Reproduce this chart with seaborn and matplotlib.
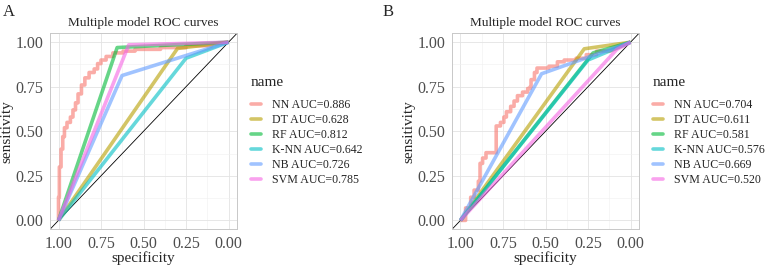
import matplotlib
matplotlib.use("Agg")
import matplotlib.pyplot as plt
from matplotlib.lines import Line2D
from matplotlib import ticker
import pandas as pd
import seaborn as sns

sns.set_style("white")
plt.rcParams['font.family'] = ['Liberation Serif', 'DejaVu Serif']
plt.rcParams['path.simplify'] = False

models = ["NN", "DT", "RF", "K-NN", "NB", "SVM"]
palette = ["#F8766D", "#B79F00", "#00BA38", "#00BFC4", "#619CFF", "#F564E3"]

# panel A (training set) - (specificity, sensitivity)
auc_a = ["0.886", "0.628", "0.812", "0.642", "0.726", "0.785"]
nn_a = [(1.0, 0.0), (1.0, 0.13), (0.995, 0.13), (0.995, 0.30), (0.985, 0.30),
        (0.985, 0.40), (0.975, 0.40), (0.975, 0.47), (0.965, 0.47), (0.965, 0.52),
        (0.95, 0.52), (0.95, 0.55), (0.93, 0.55), (0.93, 0.58), (0.915, 0.58),
        (0.915, 0.62), (0.9, 0.62), (0.9, 0.66), (0.885, 0.66), (0.885, 0.71),
        (0.865, 0.71), (0.865, 0.76), (0.845, 0.76), (0.845, 0.80), (0.82, 0.80),
        (0.82, 0.83), (0.79, 0.83), (0.79, 0.85), (0.77, 0.85), (0.77, 0.88),
        (0.75, 0.88), (0.75, 0.90), (0.72, 0.90), (0.72, 0.92), (0.68, 0.92),
        (0.68, 0.94), (0.62, 0.94), (0.62, 0.95), (0.55, 0.95), (0.55, 0.96),
        (0.40, 0.96), (0.40, 0.97), (0.25, 0.97), (0.25, 0.98), (0.10, 0.98),
        (0.10, 0.99), (0.0, 1.0)]
dt_a = [(1.0, 0.0), (0.30, 0.965), (0.0, 1.0)]
rf_a = [(1.0, 0.0), (0.655, 0.97), (0.0, 1.0)]
knn_a = [(1.0, 0.0), (0.25, 0.91), (0.0, 1.0)]
nb_a = [(1.0, 0.0), (0.626, 0.813), (0.0, 1.0)]
svm_a = [(1.0, 0.0), (0.587, 0.985), (0.0, 1.0)]

# panel B (test set)
auc_b = ["0.704", "0.611", "0.581", "0.576", "0.669", "0.520"]
nn_b = [(1.0, 0.0), (0.97, 0.0), (0.97, 0.07), (0.94, 0.07), (0.94, 0.13),
        (0.92, 0.13), (0.92, 0.17), (0.895, 0.17), (0.895, 0.22), (0.885, 0.22),
        (0.885, 0.32), (0.87, 0.32), (0.87, 0.35), (0.85, 0.35), (0.85, 0.38),
        (0.79, 0.38), (0.79, 0.53), (0.765, 0.53), (0.765, 0.55), (0.745, 0.55),
        (0.745, 0.58), (0.73, 0.58), (0.73, 0.61), (0.705, 0.61), (0.705, 0.64),
        (0.685, 0.64), (0.685, 0.67), (0.665, 0.67), (0.665, 0.70), (0.635, 0.70),
        (0.635, 0.72), (0.605, 0.72), (0.605, 0.74), (0.59, 0.74), (0.59, 0.75),
        (0.585, 0.75), (0.585, 0.79), (0.565, 0.79), (0.565, 0.83), (0.55, 0.83),
        (0.55, 0.855), (0.48, 0.855), (0.48, 0.865), (0.43, 0.865), (0.43, 0.89),
        (0.39, 0.89), (0.39, 0.90), (0.32, 0.90), (0.32, 0.91), (0.26, 0.91),
        (0.26, 0.93), (0.2, 0.93), (0.2, 0.95), (0.12, 0.95), (0.0, 1.0)]
dt_b = [(1.0, 0.0), (0.272, 0.963), (0.0, 1.0)]
rf_b = [(1.0, 0.0), (0.22, 0.94), (0.0, 1.0)]
knn_b = [(1.0, 0.0), (0.25, 0.90), (0.0, 1.0)]
nb_b = [(1.0, 0.0), (0.523, 0.823), (0.0, 1.0)]
svm_b = [(1.0, 0.0), (0.08, 0.96), (0.0, 1.0)]

panels = [
    ("A", [nn_a, dt_a, rf_a, knn_a, nb_a, svm_a], auc_a),
    ("B", [nn_b, dt_b, rf_b, knn_b, nb_b, svm_b], auc_b),
]


def make_df(curves, aucs):
    rows = []
    for m, pts, auc in zip(models, curves, aucs):
        label = f"{m} AUC={auc}"
        for i, (sp, se) in enumerate(pts):
            rows.append((label, i, sp, se))
    return pd.DataFrame(rows, columns=["name", "order", "specificity", "sensitivity"])


fig = plt.figure(figsize=(7.67, 2.66), dpi=100)
lefts = [50 / 767, 452 / 767]
letter_x = [3 / 767, 383 / 767]

for k, (letter, curves, aucs) in enumerate(panels):
    ax = fig.add_axes([lefts[k], 1 - 229.3 / 266, 187 / 767, 196 / 266])
    df = make_df(curves, aucs)
    labels = list(df["name"].unique())
    sns.lineplot(data=df, x="specificity", y="sensitivity", hue="name",
                 hue_order=labels, palette=palette, sort=False, estimator=None,
                 units="name", linewidth=2.6, alpha=0.6, ax=ax, legend=False)
    for ln in ax.get_lines():
        ln.set_solid_joinstyle("round")
        ln.set_solid_capstyle("butt")
    # diagonal reference line
    ax.axline((1, 0), (0, 1), color="black", linewidth=0.6, zorder=1.5)

    ax.set_xlim(1.05, -0.05)
    ax.set_ylim(-0.05, 1.05)
    ticks = [0, 0.25, 0.5, 0.75, 1.0]
    ax.set_xticks(ticks)
    ax.set_yticks(ticks)
    ax.xaxis.set_major_formatter(ticker.FormatStrFormatter("%.2f"))
    ax.yaxis.set_major_formatter(ticker.FormatStrFormatter("%.2f"))
    ax.set_xticks([0.125, 0.375, 0.625, 0.875], minor=True)
    ax.set_yticks([0.125, 0.375, 0.625, 0.875], minor=True)
    ax.grid(which="major", color="#E3E3E3", linewidth=0.6)
    ax.grid(which="minor", color="#F0F0F0", linewidth=0.4)
    ax.set_axisbelow(True)
    for s in ax.spines.values():
        s.set_color("#C8C8C8")
        s.set_linewidth(0.7)
    ax.tick_params(axis="both", which="major", labelsize=11.5, labelcolor="#4D4D4D",
                   color="#B3B3B3", length=2.5, width=0.6, pad=2)
    ax.tick_params(axis="both", which="minor", length=0)
    ax.set_xlabel("specificity", fontsize=11, labelpad=0)
    ax.set_ylabel("sensitivity", fontsize=11, labelpad=2)
    ax.set_title("Multiple model ROC curves", fontsize=9.5, pad=5)

    handles = [Line2D([], [], color=c, linewidth=2.6, alpha=0.6) for c in palette]
    leg = ax.legend(handles, labels, title="name", loc="center left",
                    bbox_to_anchor=(1.075, 0.5), frameon=False, fontsize=8.6,
                    title_fontsize=11, handlelength=0.85, handletextpad=0.9,
                    labelspacing=0.25, borderpad=0, borderaxespad=0)
    leg._legend_box.align = "left"
    leg._legend_box.sep = 7

    fig.text(letter_x[k], 0.985, letter, fontsize=12, va="top", ha="left")

fig.savefig("out.png", dpi=100)
